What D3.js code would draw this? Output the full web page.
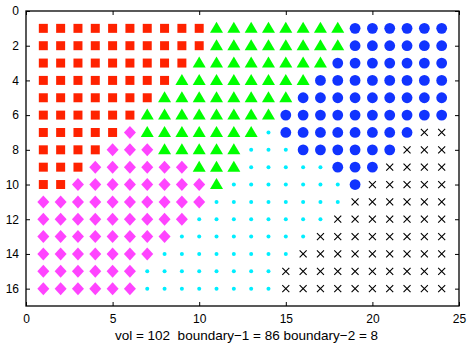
<!DOCTYPE html>
<html>
<head>
<meta charset="utf-8">
<script src="https://cdn.jsdelivr.net/npm/d3@7"></script>
<style>
  body { margin: 0; background: #fff; }
  svg { display: block; }
  .axis text { font-family: "Liberation Sans", Arial, Helvetica, sans-serif; font-size: 12px; fill: #000; }
  .axis line { stroke: #000; }
</style>
</head>
<body>
<div id="chart"></div>
<script>
// cell labels, one string per row (row 1 at top), one letter per column 1..24
// S = square, T = triangle, C = circle, D = diamond, O = dot, X = cross
var rows = [
    "SSSSSSSSSSTTTTTTTTCCCCCC",
    "SSSSSSSSSSTTTTTTTTCCCCCC",
    "SSSSSSSSSTTTTTTTTCCCCCCC",
    "SSSSSSSSTTTTTTTTCCCCCCCC",
    "SSSSSSSTTTTTTTTCCCCCCCCC",
    "SSSSSSTTTTTTTTCCCCCCCCCC",
    "SSSSSDTTTTTTTOCCCCCCCCXX",
    "SSSSDDDTTTTTOOOCCCCCCXXX",
    "SSSDDDDDDTTTOOOOOCCCXXXX",
    "SSDDDDDDDDTOOOOOOOCXXXXX",
    "DDDDDDDDDDOOOOOOOOXXXXXX",
    "DDDDDDDDDOOOOOOOOXXXXXXX",
    "DDDDDDDDOOOOOOOOXXXXXXXX",
    "DDDDDDDOOOOOOOOXXXXXXXXX",
    "DDDDDDOOOOOOOOXXXXXXXXXX",
    "DDDDDDOOOOOOOOXXXXXXXXXX"
];
var classes = ["S", "T", "C", "D", "O", "X"];
var xTicks = [0, 5, 10, 15, 20, 25];
var yTicks = [0, 2, 4, 6, 8, 10, 12, 14, 16];
var xDomain = [0, 25];
var yDomain = [0, 17];
var xLabel = "vol = 102  boundary\u22121 = 86 boundary\u22122 = 8";

var colors = { S: "#ff2200", T: "#00ff00", C: "#1133ff", D: "#ff44ff", O: "#00eeff", X: "#000" };

var W = 468, H = 343;
var margin = {top: 11, right: 9, bottom: 37, left: 26};
var width = W - margin.left - margin.right;
var height = H - margin.top - margin.bottom;

var svg = d3.select("#chart").append("svg")
    .attr("width", W)
    .attr("height", H)
    .append("g")
    .attr("transform", "translate(" + margin.left + "," + margin.top + ")");

var x = d3.scaleLinear().domain(xDomain).range([0, width]);
var y = d3.scaleLinear().domain(yDomain).range([0, height]);

var points = [];
rows.forEach(function(r, i) {
    r.split("").forEach(function(c, j) {
        points.push({x: j + 1, y: i + 1, cls: c});
    });
});

// axes, ticks pointing inward
svg.append("g").attr("class", "axis")
    .attr("transform", "translate(0," + height + ")")
    .call(d3.axisBottom(x).tickValues(xTicks).tickSize(-4).tickPadding(8).tickSizeOuter(0))
    .call(function(g) { g.select(".domain").remove(); });
svg.append("g").attr("class", "axis")
    .call(d3.axisTop(x).tickValues(xTicks).tickSize(-4).tickFormat("").tickSizeOuter(0))
    .call(function(g) { g.select(".domain").remove(); });
svg.append("g").attr("class", "axis")
    .call(d3.axisLeft(y).tickValues(yTicks).tickSize(-4).tickPadding(7).tickSizeOuter(0))
    .call(function(g) { g.select(".domain").remove(); });
svg.append("g").attr("class", "axis")
    .attr("transform", "translate(" + width + ",0)")
    .call(d3.axisRight(y).tickValues(yTicks).tickSize(-4).tickFormat("").tickSizeOuter(0))
    .call(function(g) { g.select(".domain").remove(); });

svg.append("rect")
    .attr("width", width)
    .attr("height", height)
    .attr("fill", "none")
    .attr("stroke", "#000")
    .attr("stroke-width", 1.3);

var shapes = {
    S: "M-4.5,-4.5h9v9h-9z",
    T: "M0,-6.5L6.5,4.5L-6.5,4.5z",
    D: "M0,-6.5L6,0L0,6.5L-6,0z",
    X: "M-3.5,-3.5L3.5,3.5M-3.5,3.5L3.5,-3.5"
};

classes.forEach(function(c) {
    var data = points.filter(function(d) { return d.cls === c; });
    var g = svg.append("g").attr("class", "series-" + c);
    if (c === "C" || c === "O") {
        g.selectAll("circle").data(data).enter().append("circle")
            .attr("cx", function(d) { return x(d.x); })
            .attr("cy", function(d) { return y(d.y); })
            .attr("r", c === "C" ? 5.4 : 2)
            .attr("fill", colors[c]);
    } else {
        g.selectAll("path").data(data).enter().append("path")
            .attr("transform", function(d) { return "translate(" + x(d.x) + "," + y(d.y) + ")"; })
            .attr("d", shapes[c])
            .attr("fill", c === "X" ? "none" : colors[c])
            .attr("stroke", c === "X" ? colors[c] : "none")
            .attr("stroke-width", 1.1);
    }
});

svg.append("text")
    .attr("x", width / 2 + 4)
    .attr("y", height + 34)
    .attr("text-anchor", "middle")
    .style("font-family", "Liberation Sans, Arial, Helvetica, sans-serif")
    .style("font-size", "13.5px")
    .style("white-space", "pre")
    .text(xLabel);
</script>
</body>
</html>
